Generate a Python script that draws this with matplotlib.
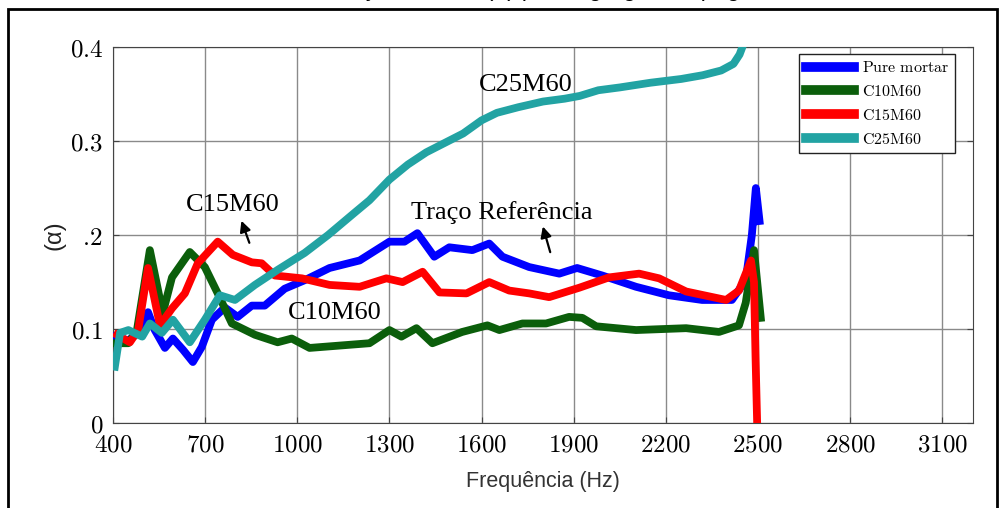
import matplotlib.pyplot as plt
from matplotlib.patches import Rectangle

plt.rcParams['mathtext.fontset'] = 'cm'

# Pure mortar (reference)
f_pure = [406, 450, 482, 514, 536, 569, 595, 628, 660, 689, 722, 764, 806, 852, 894,
          959, 1024, 1105, 1203, 1300, 1349, 1391, 1446, 1495, 1570, 1625, 1668, 1755,
          1853, 1911, 1993, 2103, 2210, 2318, 2415, 2460, 2480, 2493, 2505]
a_pure = [0.092, 0.088, 0.096, 0.118, 0.099, 0.080, 0.090, 0.078, 0.065, 0.081, 0.110,
          0.123, 0.113, 0.125, 0.125, 0.143, 0.152, 0.165, 0.173, 0.193, 0.193, 0.202,
          0.177, 0.187, 0.184, 0.191, 0.177, 0.166, 0.159, 0.165, 0.157, 0.145, 0.136,
          0.131, 0.131, 0.152, 0.200, 0.250, 0.215]

# C10M60
f_c10 = [406, 450, 478, 520, 562, 592, 650, 699, 741, 787, 862, 936, 982, 1040, 1235,
         1300, 1339, 1388, 1440, 1537, 1619, 1658, 1733, 1810, 1885, 1928, 1973, 2103,
         2266, 2373, 2438, 2460, 2487, 2509]
a_c10 = [0.085, 0.085, 0.099, 0.184, 0.117, 0.155, 0.182, 0.166, 0.138, 0.106, 0.094,
         0.086, 0.090, 0.080, 0.085, 0.099, 0.092, 0.101, 0.085, 0.097, 0.104, 0.099,
         0.106, 0.106, 0.113, 0.112, 0.103, 0.099, 0.101, 0.097, 0.104, 0.128, 0.184,
         0.112]

# C15M60
f_c15 = [413, 455, 482, 514, 553, 592, 634, 676, 741, 790, 852, 884, 927, 1015, 1105,
         1203, 1290, 1343, 1408, 1463, 1551, 1625, 1690, 1755, 1820, 1918, 2015, 2113,
         2178, 2266, 2396, 2438, 2477, 2487, 2492, 2498]
a_c15 = [0.094, 0.086, 0.099, 0.165, 0.104, 0.122, 0.138, 0.170, 0.193, 0.179, 0.171,
         0.170, 0.157, 0.154, 0.147, 0.145, 0.154, 0.150, 0.161, 0.139, 0.138, 0.150,
         0.141, 0.138, 0.134, 0.144, 0.155, 0.159, 0.154, 0.140, 0.131, 0.141, 0.173,
         0.150, 0.070, -0.010]

# C25M60
f_c25 = [406, 423, 450, 495, 520, 559, 595, 650, 699, 748, 797, 862, 936, 1024, 1100,
         1180, 1235, 1300, 1360, 1420, 1480, 1540, 1600, 1650, 1720, 1800, 1870, 1920,
         1980, 2050, 2150, 2250, 2320, 2380, 2420, 2440, 2455]
a_c25 = [0.060, 0.096, 0.099, 0.092, 0.106, 0.096, 0.110, 0.086, 0.110, 0.136, 0.131,
         0.147, 0.163, 0.181, 0.200, 0.222, 0.237, 0.259, 0.275, 0.288, 0.298, 0.308,
         0.322, 0.330, 0.336, 0.342, 0.345, 0.348, 0.354, 0.357, 0.362, 0.366, 0.370,
         0.375, 0.382, 0.392, 0.405]

x_ticks = [400, 700, 1000, 1300, 1600, 1900, 2200, 2500, 2800, 3100]
y_ticks = [0, 0.1, 0.2, 0.3, 0.4]
y_labels = ['0', '0.1', r'.\!2', '0.3', '0.4']

fig = plt.figure(figsize=(10, 5.08), dpi=100)
ax = fig.add_axes([0.113, 0.167, 0.86, 0.7405])

lw = 5.6
ax.plot(f_pure, a_pure, color='#0000ff', lw=lw, label=r'$\mathrm{Pure\ mortar}$', zorder=3)
ax.plot(f_c10, a_c10, color='#0b5e0b', lw=lw, label=r'$\mathrm{C10M60}$', zorder=3)
ax.plot(f_c15, a_c15, color='#ff0000', lw=lw, label=r'$\mathrm{C15M60}$', zorder=3)
ax.plot(f_c25, a_c25, color='#22a3a3', lw=lw, label=r'$\mathrm{C25M60}$', zorder=3)

ax.set_xlim(400, 3200)
ax.set_ylim(0, 0.4)
ax.set_xticks(x_ticks)
ax.set_xticklabels(['$%d$' % t for t in x_ticks], fontsize=18)
ax.set_yticks(y_ticks)
ax.set_yticklabels(['$%s$' % s for s in y_labels], fontsize=18)
ax.tick_params(direction='in', length=4, pad=7, right=True, color='#444444')
ax.grid(True, color='#8a8a8a', lw=1)
for s in ax.spines.values():
    s.set_color('#444444')

ax.set_xlabel('Frequência (Hz)', fontsize=15.5, color='#333333',
              family='Liberation Sans', labelpad=10)
ax.set_ylabel('(α)', fontsize=17, color='#222222', family='Liberation Sans', labelpad=3)

leg = ax.legend(loc='upper left', bbox_to_anchor=(0.798, 0.982), borderaxespad=0,
                fontsize=11.5, fancybox=False, framealpha=1, edgecolor='#222222',
                handlelength=3.0, handletextpad=0.5, labelspacing=0.55)
for h in leg.get_lines():
    h.set_linewidth(7)

serif = dict(family='Liberation Serif', fontsize=19, ha='center', va='center')
ax.text(1745, 0.360, 'C25M60', **serif)
ax.text(1667, 0.224, 'Traço Referência', **serif)
ax.text(790, 0.232, 'C15M60', **serif)
ax.text(1121, 0.117, 'C10M60', **serif)

arr = dict(arrowstyle='-|>', color='black', lw=1.6, mutation_scale=16)
ax.annotate('', xy=(1797, 0.212), xytext=(1826, 0.179), arrowprops=arr)
ax.annotate('', xy=(815, 0.218), xytext=(847, 0.189), arrowprops=arr)

# outer frame and cut-off caption
fig.patches.append(Rectangle((0.008, -0.05), 0.989, 1.032, transform=fig.transFigure,
                             fill=False, edgecolor='black', lw=2))
fig.text(0.5, 1.0 + 4 / 508, 'Coeficiente de absorção sonora (α) para agregados, pag. C25, M60',
         ha='center', va='baseline', fontsize=17, family='Liberation Sans')

fig.savefig('out.png', dpi=100)
